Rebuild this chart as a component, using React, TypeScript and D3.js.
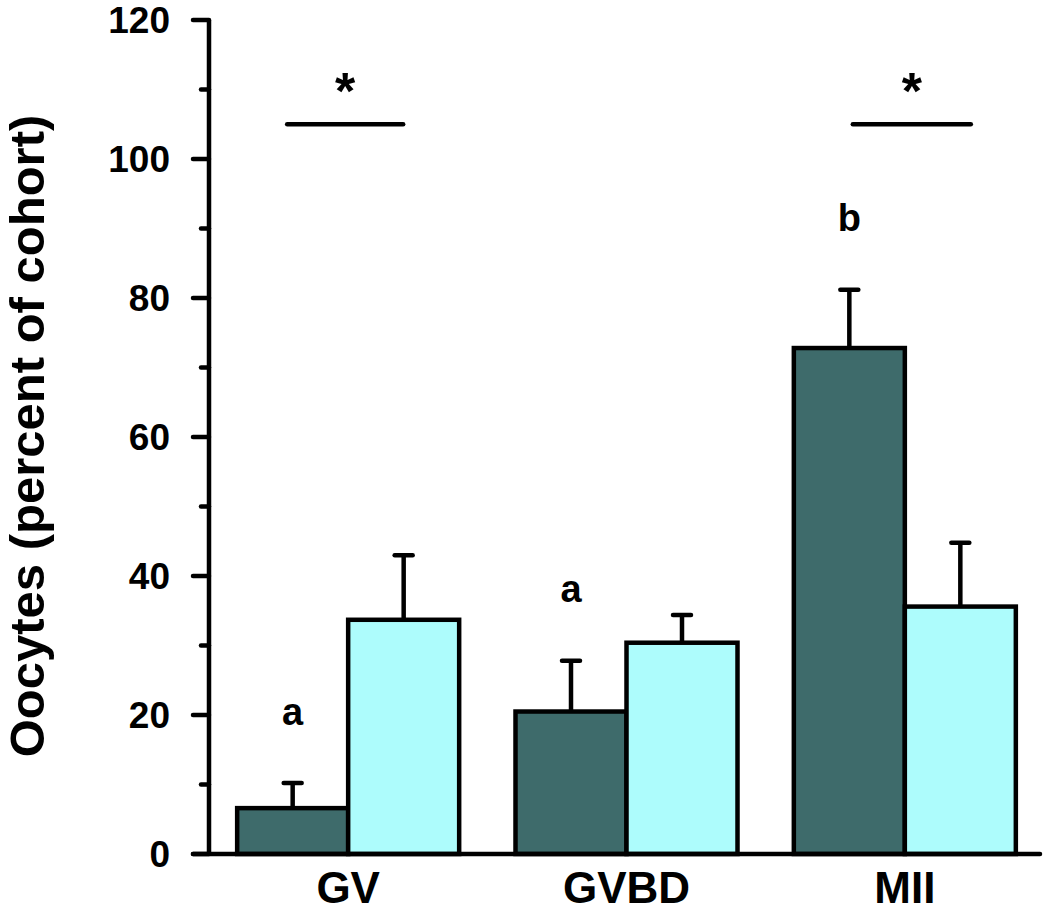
import React from "react";
import * as d3 from "d3";

const categories = ["GV", "GVBD", "MII"];
const controlMeans = [6.6, 20.5, 72.8];
const controlSem = [3.6, 7.3, 8.4];
const treatedMeans = [33.7, 30.4, 35.6];
const treatedSem = [9.3, 4.0, 9.2];
const controlLetters = ["a", "a", "b"];
const significant = [true, false, true];
const sigLevel = 105;
const majorTicks = [0, 20, 40, 60, 80, 100, 120];
const minorTicks = [10, 30, 50, 70, 90, 110];
const yLabel = "Oocytes (percent of cohort)";

const W = 1050;
const H = 912;
const FONT = "'Liberation Sans', Arial, Helvetica, sans-serif";
const DARK = "#3e6b6b";
const LIGHT = "#adfcfc";

// horizontal offsets (px) of the significance line ends relative to the group centre
const sigOffsets: Record<string, [number, number]> = {
  GV: [-61, 55],
  MII: [-52, 66],
};

export default function App() {
  const axisX = 209;
  const y = d3.scaleLinear().domain([0, 120]).range([854, 20]);
  const x = d3.scaleBand<string>().domain(categories).range([209, 1044]).padding(0);
  const barW = 111;
  const sw = 4.5;
  const capHalf = 9;

  return (
    <svg width={W} height={H} style={{ position: "absolute", left: 0, top: 0, background: "#fff" }}>
      {/* y axis label */}
      <text
        transform={`translate(44, 436) rotate(-90)`}
        textAnchor="middle"
        fontFamily={FONT}
        fontWeight="bold"
        fontSize={49}
      >
        {yLabel}
      </text>

      {categories.map((c, i) => {
        const cx = (x(c) as number) + x.bandwidth() / 2;
        const series = [
          { mean: controlMeans[i], sem: controlSem[i], fill: DARK, x0: cx - barW },
          { mean: treatedMeans[i], sem: treatedSem[i], fill: LIGHT, x0: cx },
        ];
        const off = sigOffsets[c] || [-55, 55];
        const sx1 = cx + off[0];
        const sx2 = cx + off[1];
        return (
          <g key={c}>
            {series.map((s, j) => {
              const bc = s.x0 + barW / 2;
              const top = y(s.mean + s.sem);
              return (
                <g key={j}>
                  <line x1={bc} x2={bc} y1={y(s.mean)} y2={top} stroke="#000" strokeWidth={sw} />
                  <line x1={bc - capHalf} x2={bc + capHalf} y1={top} y2={top} stroke="#000" strokeWidth={sw} strokeLinecap="round" />
                  <rect
                    x={s.x0}
                    y={y(s.mean)}
                    width={barW}
                    height={y(0) - y(s.mean)}
                    fill={s.fill}
                    stroke="#000"
                    strokeWidth={sw}
                  />
                </g>
              );
            })}
            <text
              x={cx - barW / 2}
              y={y(controlMeans[i] + controlSem[i] + 8.4)}
              textAnchor="middle"
              fontFamily={FONT}
              fontWeight="bold"
              fontSize={38}
            >
              {controlLetters[i]}
            </text>
            {significant[i] && (
              <g>
                <line
                  x1={sx1}
                  x2={sx2}
                  y1={y(sigLevel)}
                  y2={y(sigLevel)}
                  stroke="#000"
                  strokeWidth={sw}
                  strokeLinecap="round"
                />
                <text
                  x={(sx1 + sx2) / 2}
                  y={y(sigLevel) - 15}
                  textAnchor="middle"
                  fontFamily={FONT}
                  fontWeight="bold"
                  fontSize={52}
                >
                  *
                </text>
              </g>
            )}
            <text x={cx} y={903} textAnchor="middle" fontFamily={FONT} fontWeight="bold" fontSize={44}>
              {c}
            </text>
          </g>
        );
      })}

      {/* axes */}
      <line x1={axisX} x2={axisX} y1={y(120)} y2={y(0)} stroke="#000" strokeWidth={sw} />
      <line x1={193} x2={1040} y1={y(0)} y2={y(0)} stroke="#000" strokeWidth={sw} strokeLinecap="round" />
      {majorTicks.map((t) => (
        <g key={t}>
          <line x1={193} x2={axisX} y1={y(t)} y2={y(t)} stroke="#000" strokeWidth={sw} strokeLinecap="round" />
          <text
            x={170}
            y={y(t)}
            dy="0.36em"
            textAnchor="end"
            fontFamily={FONT}
            fontWeight="bold"
            fontSize={37}
          >
            {t}
          </text>
        </g>
      ))}
      {minorTicks.map((t) => (
        <line key={t} x1={201} x2={axisX} y1={y(t)} y2={y(t)} stroke="#000" strokeWidth={sw} strokeLinecap="round" />
      ))}
    </svg>
  );
}
